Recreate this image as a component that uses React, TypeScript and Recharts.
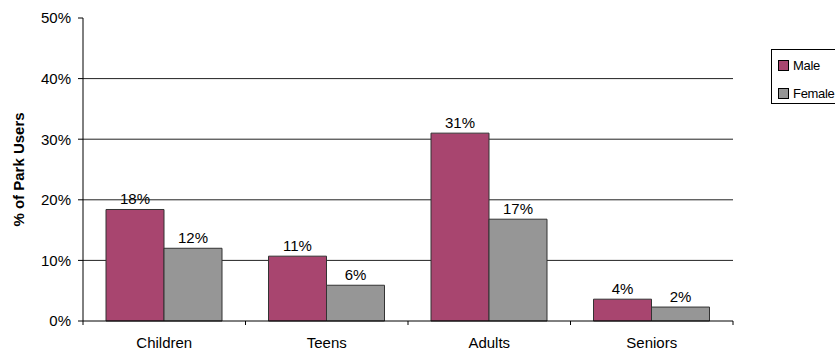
import { Bar, BarChart, CartesianGrid, LabelList, XAxis, YAxis } from "recharts";

const categories = ["Children", "Teens", "Adults", "Seniors"];
const maleValues = [18.4, 10.7, 31.0, 3.6];
const femaleValues = [12.0, 5.9, 16.8, 2.3];
const yTicks = [0, 10, 20, 30, 40, 50];
const gridValues = [10, 20, 30, 40];

const series = [
  { key: "male", name: "Male", color: "#A8456F" },
  { key: "female", name: "Female", color: "#969696" },
];

const data = categories.map((name, i) => ({
  name,
  male: maleValues[i],
  female: femaleValues[i],
}));

const FONT = "'Liberation Sans', Arial, sans-serif";
const pct = (v: number) => `${Math.round(v)}%`;

function CategoryTick(props: any) {
  const { x, y, payload, index } = props;
  const half = payload?.offset ?? 81;
  const last = index === categories.length - 1;
  return (
    <g>
      <line x1={x - half} x2={x - half} y1={y} y2={y + 4} stroke="#000" />
      {last && <line x1={x + half} x2={x + half} y1={y} y2={y + 4} stroke="#000" />}
      <text x={x} y={y + 27} textAnchor="middle" fontSize={15} fill="#000" fontFamily={FONT}>
        {payload.value}
      </text>
    </g>
  );
}

function AxisTitle(props: any) {
  const cy = props.viewBox ? props.viewBox.y + props.viewBox.height / 2 : 170;
  return (
    <text
      x={24}
      y={cy}
      transform={`rotate(-90 24 ${cy})`}
      textAnchor="middle"
      fontSize={15}
      fontWeight="bold"
      fill="#000"
      fontFamily={FONT}
    >
      % of Park Users
    </text>
  );
}

export default function App() {
  return (
    <div
      style={{
        position: "absolute",
        left: 0,
        top: 0,
        width: 835,
        height: 353,
        overflow: "hidden",
        background: "#fff",
        fontFamily: FONT,
      }}
    >
      <BarChart
        width={835}
        height={353}
        data={data}
        margin={{ top: 18, right: 102, left: 23, bottom: 2 }}
        barCategoryGap={23}
        barGap={0}
      >
        <CartesianGrid vertical={false} horizontalValues={gridValues} stroke="#222" />
        <XAxis
          dataKey="name"
          height={30}
          tickLine={false}
          tickSize={0}
          tickMargin={0}
          axisLine={{ stroke: "#000" }}
          tick={<CategoryTick />}
          interval={0}
        />
        <YAxis
          width={60}
          domain={[0, 50]}
          ticks={yTicks}
          tickFormatter={(v) => `${v}%`}
          tickSize={5}
          tickMargin={7}
          axisLine={{ stroke: "#000" }}
          tickLine={{ stroke: "#000" }}
          tick={{ fill: "#000", fontSize: 15, fontFamily: FONT }}
          label={<AxisTitle />}
        />
        {series.map((s) => (
          <Bar
            key={s.key}
            dataKey={s.key}
            name={s.name}
            fill={s.color}
            stroke="#333"
            strokeWidth={1}
            isAnimationActive={false}
          >
            <LabelList
              dataKey={s.key}
              position="top"
              offset={5}
              formatter={(v: any) => pct(Number(v))}
              style={{ fill: "#000", fontSize: 15, fontFamily: FONT }}
            />
          </Bar>
        ))}
      </BarChart>
      <div
        style={{
          position: "absolute",
          left: 771,
          top: 49,
          width: 90,
          height: 55,
          border: "1px solid #000",
          boxSizing: "border-box",
          background: "#fff",
        }}
      >
        {series.map((s, i) => (
          <div
            key={s.key}
            style={{
              position: "absolute",
              left: 6,
              top: 10 + i * 28,
              display: "flex",
              alignItems: "center",
              fontSize: 13,
              lineHeight: "11px",
              whiteSpace: "nowrap",
              letterSpacing: -0.3,
            }}
          >
            <span
              style={{
                display: "inline-block",
                width: 9,
                height: 9,
                background: s.color,
                border: "1px solid #000",
                marginRight: 4,
              }}
            />
            {s.name}
          </div>
        ))}
      </div>
    </div>
  );
}
